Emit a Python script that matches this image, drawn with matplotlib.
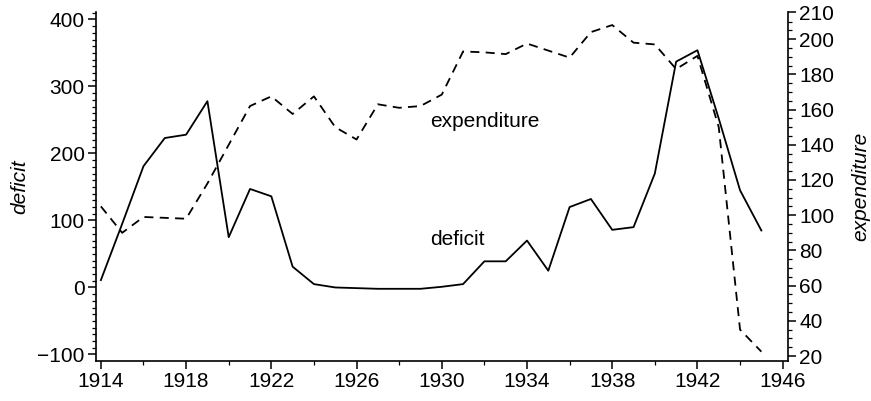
import numpy as np
import matplotlib
matplotlib.use("Agg")
import matplotlib.pyplot as plt
from matplotlib.ticker import MultipleLocator, FixedLocator

years = list(range(1914, 1946))
deficit = [11, 95, 181, 223, 228, 278, 75, 147, 136, 31,
           5, 0, -1, -2, -2, -2, 1, 5, 39, 39,
           70, 25, 120, 132, 86, 90, 170, 337, 354, 252,
           145, 85]
expenditure = [105, 90, 99, 98.5, 98, 118, 140, 162, 167.5, 157.5,
               167.5, 150, 143, 163, 161, 162, 168.5, 193, 192.5, 191.5,
               197.5, 193.5, 189.5, 204, 208, 198, 197, 183, 190.5, 150,
               35, 22.5]

left_ticks = [-100, 0, 100, 200, 300, 400]
right_ticks = [20, 40, 60, 80, 100, 120, 140, 160, 180, 200]
x_ticks = [1914, 1918, 1922, 1926, 1930, 1934, 1938, 1942, 1946]

plt.rcParams['font.family'] = ['Liberation Sans', 'DejaVu Sans']
plt.rcParams['font.size'] = 15

fig = plt.figure(figsize=(8.71, 4.01), dpi=100)
ax = fig.add_axes([0.1102, 0.0998, 0.7945, 0.8702])
ax2 = ax.twinx()

ax.plot(years, deficit, color='black', lw=1.3)
ax2.plot(years, expenditure, color='black', lw=1.3, dashes=(5, 3.5))

ax.set_xlim(1913.77, 1946.25)
ax.set_ylim(-109.7, 411)
ax2.set_ylim(17.2, 215.4)

ax.set_xticks(x_ticks)
ax.xaxis.set_minor_locator(MultipleLocator(2))
ax.set_yticks(left_ticks)
ax.set_yticklabels(['\u2212100'] + [str(t) for t in left_ticks[1:]])
ax.yaxis.set_minor_locator(MultipleLocator(10))

# top tick of the right axis sits at the axis end, as in the original
top = ax2.get_ylim()[1]
ax2.set_yticks(right_ticks + [top])
ax2.set_yticklabels([str(t) for t in right_ticks] + ['210'])
ax2.yaxis.set_minor_locator(FixedLocator([v for v in range(25, 215, 5) if v % 20 != 0]))

for a in (ax, ax2):
    a.spines['top'].set_visible(False)
    for s in a.spines.values():
        s.set_linewidth(1.2)
    a.tick_params(which='major', length=6, width=1.1, direction='out', pad=2)
    a.tick_params(which='minor', length=3, width=0.9, direction='out')
ax.spines['right'].set_visible(False)
ax2.spines['left'].set_visible(False)
ax2.spines['bottom'].set_visible(False)

ax.set_ylabel('deficit', style='italic', labelpad=6)
ax2.set_ylabel('expenditure', style='italic', labelpad=12)

ax.text(1929.45, 247, 'expenditure', fontsize=15, va='center')
ax.text(1929.45, 72, 'deficit', fontsize=15, va='center')

fig.savefig('out.png', dpi=100)
